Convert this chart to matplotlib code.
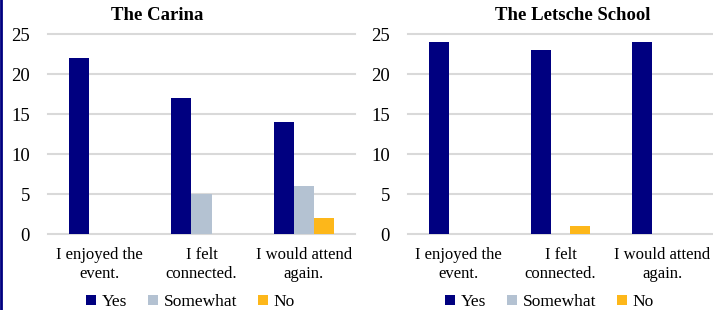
import matplotlib
matplotlib.use("Agg")
import matplotlib.pyplot as plt
from matplotlib.lines import Line2D
import numpy as np

plt.rcParams.update({
    "font.family": ["Liberation Serif", "DejaVu Serif"],
    "font.size": 12,
})

categories = ["I enjoyed the\nevent.", "I felt\nconnected.", "I would attend\nagain."]
series = ["Yes", "Somewhat", "No"]
colors = ["#000080", "#B4C2D2", "#FDB71A"]

carina_yes = [22, 17, 14]
carina_somewhat = [0, 5, 6]
carina_no = [0, 0, 2]

letsche_yes = [24, 23, 24]
letsche_somewhat = [0, 0, 0]
letsche_no = [0, 1, 0]

panels = [
    ("The Carina", [carina_yes, carina_somewhat, carina_no],
     [48 / 713, 75.7 / 310, 307 / 713, 200 / 310], 157),
    ("The Letsche School", [letsche_yes, letsche_somewhat, letsche_no],
     [408 / 713, 75.7 / 310, 305 / 713, 200 / 310], 573),
]

fig = plt.figure(figsize=(7.13, 3.10), dpi=100)
fig.patch.set_facecolor("white")

x = np.arange(len(categories))
width = 0.196

for title, values, rect, title_x in panels:
    ax = fig.add_axes(rect)
    for i, (name, vals, col) in enumerate(zip(series, values, colors)):
        ax.bar(x + (i - 1) * width, vals, width, color=col, label=name, zorder=3)
    ax.set_xlim(-0.5, 2.5)
    ax.set_ylim(0, 25)
    ax.set_yticks([0, 5, 10, 15, 20, 25])
    ax.set_xticks(x)
    ax.set_xticklabels(categories, fontsize=12, linespacing=1.25)
    ax.tick_params(axis="y", length=0, pad=13, labelsize=13.5)
    ax.tick_params(axis="x", length=0, pad=9)
    for s in ax.spines.values():
        s.set_visible(False)
    ax.yaxis.grid(True, color="#D9D9D9", linewidth=1.5, zorder=0)
    for gl in ax.get_ygridlines():
        gl.set_clip_on(False)
    fig.text(title_x / 713, 1 - 16 / 310, title, ha="center", va="center",
             fontsize=13.5, fontweight="bold")
    ax.legend(loc="center", bbox_to_anchor=(0.465, -0.34), ncol=3, frameon=False,
              handlelength=0.55, handleheight=0.55, handletextpad=0.35,
              columnspacing=1.2, fontsize=12.5, borderaxespad=0)

fig.add_artist(Line2D([0.0014, 0.0014], [0, 1], color="#000080", linewidth=2,
                      transform=fig.transFigure))

fig.savefig("out.png", dpi=100)
